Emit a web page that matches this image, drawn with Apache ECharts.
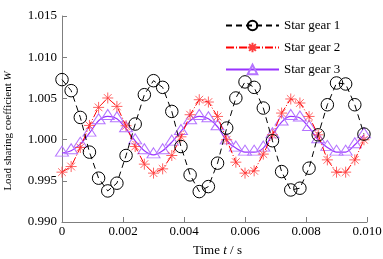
<!DOCTYPE html>
<html>
<head>
<meta charset="utf-8">
<script src="https://cdn.jsdelivr.net/npm/echarts@6/dist/echarts.min.js"></script>
<style>
  html, body { margin: 0; padding: 0; background: #fff; }
  #chart { width: 383px; height: 259px; }
</style>
</head>
<body>
<div id="chart"></div>
<script>
// time samples (s)
const times = [0, 0.0003, 0.0006, 0.0009, 0.0012, 0.0015, 0.0018, 0.0021, 0.0024, 0.0027,
  0.0030, 0.0033, 0.0036, 0.0039, 0.0042, 0.0045, 0.0048, 0.0051, 0.0054, 0.0057,
  0.0060, 0.0063, 0.0066, 0.0069, 0.0072, 0.0075, 0.0078, 0.0081, 0.0084, 0.0087,
  0.0090, 0.0093, 0.0096, 0.0099];

// load sharing coefficient
const gear1 = [1.00728, 1.00594, 1.00269, 0.99848, 0.99532, 0.99377, 0.99471, 0.99807, 1.00189, 1.00545,
  1.00715, 1.00634, 1.00342, 0.99916, 0.99572, 0.99369, 0.99430, 0.99714, 1.00140, 1.00505,
  1.00700, 1.00634, 1.00383, 0.99986, 0.99612, 0.99389, 0.99410, 0.99653, 1.00058, 1.00423,
  1.00687, 1.00675, 1.00423, 1.00067];
const gear2 = [0.99605, 0.99673, 0.99904, 1.00172, 1.00391, 1.00505, 1.00403, 1.00168, 0.99916, 0.99702,
  0.99593, 0.99645, 0.99807, 1.00034, 1.00302, 1.00484, 1.00456, 1.00281, 0.99998, 0.99726,
  0.99593, 0.99621, 0.99824, 1.00058, 1.00322, 1.00493, 1.00444, 1.00281, 1.00058, 0.99754,
  0.99605, 0.99605, 0.99754, 0.99998];
const gear3 = [0.99836, 0.99864, 0.99945, 1.00079, 1.00229, 1.00281, 1.00253, 1.00131, 0.99985, 0.99864,
  0.99815, 0.99864, 0.99970, 1.00099, 1.00229, 1.00281, 1.00253, 1.00156, 0.99985, 0.99897,
  0.99848, 0.99848, 0.99897, 1.00058, 1.00213, 1.00281, 1.00262, 1.00147, 0.99998, 0.99905,
  0.99848, 0.99848, 0.99937, 1.00058];

const seriesNames = ['Star gear 1', 'Star gear 2', 'Star gear 3'];

const serif = "'Liberation Serif', 'Times New Roman', serif";
const axisGray = '#7f7f7f';
const star = 'path://M5,0L5,10M0,5L10,5M1.5,1.5L8.5,8.5M8.5,1.5L1.5,8.5';

const pairs = arr => times.map((t, i) => [t, arr[i]]);

const chart = echarts.init(document.getElementById('chart'));
chart.setOption({
  animation: false,
  backgroundColor: '#fff',
  grid: { left: 62, right: 16, top: 16, bottom: 37, containLabel: false, outerBoundsMode: 'none' },
  legend: {
    orient: 'vertical',
    left: 220, top: 14,
    itemWidth: 53, itemHeight: 12, itemGap: 9,
    textStyle: { fontFamily: serif, fontSize: 13, color: '#000' },
    data: seriesNames
  },
  // y axis title, placed by hand
  graphic: [{
    type: 'text',
    x: 8, y: 131,
    rotation: Math.PI / 2,
    style: {
      text: 'Load sharing coefficient {i|W}',
      fontFamily: serif, fontSize: 11, fill: '#000',
      align: 'center', verticalAlign: 'middle',
      rich: { i: { fontFamily: serif, fontSize: 11, fontStyle: 'italic' } }
    }
  }],
  xAxis: {
    type: 'value',
    min: 0, max: 0.010, interval: 0.002,
    name: 'Time {i|t} / s',
    nameLocation: 'middle',
    nameGap: 22,
    nameTextStyle: {
      fontFamily: serif, fontSize: 13, color: '#000', padding: [0, 0, 0, 6],
      rich: { i: { fontFamily: serif, fontSize: 13, fontStyle: 'italic', color: '#000' } }
    },
    splitLine: { show: false },
    axisLine: { lineStyle: { color: axisGray, width: 1 } },
    axisTick: { inside: true, length: 5, lineStyle: { color: axisGray } },
    axisLabel: {
      margin: 3, fontFamily: serif, fontSize: 13, color: '#000',
      formatter: v => v === 0 ? '0' : v.toFixed(3)
    }
  },
  yAxis: {
    type: 'value',
    min: 0.990, max: 1.015, interval: 0.005,
    splitLine: { show: false },
    axisLine: { show: true, lineStyle: { color: axisGray, width: 1 } },
    axisTick: { show: true, inside: true, length: 5, lineStyle: { color: axisGray } },
    axisLabel: {
      margin: 5, fontFamily: serif, fontSize: 13, color: '#000',
      formatter: v => v.toFixed(3)
    }
  },
  series: [
    {
      name: seriesNames[0], type: 'line', data: pairs(gear1),
      symbol: 'circle', symbolSize: 12.5,
      lineStyle: { color: '#000', width: 1, type: [6, 4] },
      itemStyle: { color: 'rgba(0,0,0,0)', borderColor: '#000', borderWidth: 1 },
      z: 3
    },
    {
      name: seriesNames[1], type: 'line', data: pairs(gear2),
      symbol: star, symbolSize: 11,
      lineStyle: { color: '#ff0000', width: 1, type: [8, 2, 1, 2] },
      itemStyle: { color: 'rgba(255,0,0,0)', borderColor: '#ff3c3c', borderWidth: 0.8 },
      z: 2
    },
    {
      name: seriesNames[2], type: 'line', data: pairs(gear3),
      smooth: 0.3,
      symbol: 'triangle', symbolSize: [13, 10], symbolOffset: [0, -2],
      lineStyle: { color: '#9933ff', width: 1.2 },
      itemStyle: { color: 'rgba(150,80,255,0)', borderColor: '#b574ff', borderWidth: 1 },
      z: 1
    }
  ]
});
</script>
</body>
</html>
